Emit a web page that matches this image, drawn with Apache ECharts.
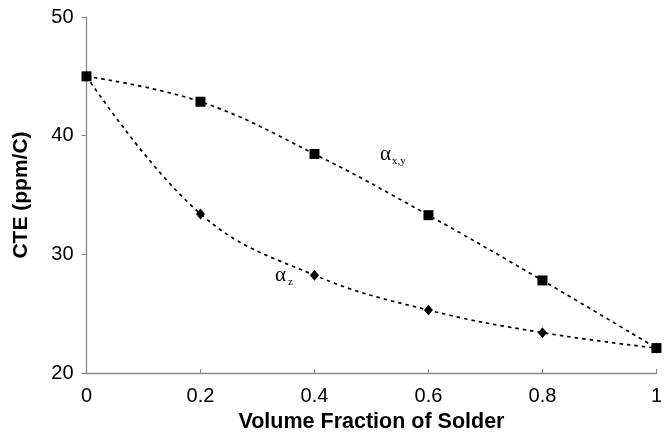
<!DOCTYPE html>
<html>
<head>
<meta charset="utf-8">
<script src="https://cdn.jsdelivr.net/npm/echarts@6/dist/echarts.min.js"></script>
<style>
html,body{margin:0;padding:0;background:#fff;}
#c{width:665px;height:438px;}
</style>
</head>
<body>
<div id="c"></div>
<script>
var xValues = [0, 0.2, 0.4, 0.6, 0.8, 1];
var alphaXY = [45.0, 42.86, 38.46, 33.3, 27.8, 22.1];
var alphaZ = [45.0, 33.4, 28.24, 25.3, 23.4, 22.1];
var xTicks = ['0', '0.2', '0.4', '0.6', '0.8', '1'];
var yTicks = ['20', '30', '40', '50'];

function pairs(xs, ys) { return xs.map(function (x, i) { return [x, ys[i]]; }); }

var chart = echarts.init(document.getElementById('c'), null, {renderer: 'canvas'});
var axisColor = '#868686';
var lineStyle = {color: '#000', width: 1.7, type: [3.5, 4]};
chart.setOption({
  animation: false,
  backgroundColor: '#fff',
  grid: {left: 86.5, right: 6, top: 17, bottom: 65, containLabel: false},
  xAxis: {
    type: 'value', min: 0, max: 1, interval: 0.2,
    name: 'Volume Fraction of Solder', nameLocation: 'middle', nameGap: 38,
    nameTextStyle: {fontFamily: 'Liberation Sans', fontWeight: 'bold', fontSize: 21.5, color: '#000'},
    axisLine: {show: true, lineStyle: {color: axisColor, width: 1.3}},
    axisTick: {show: true, inside: true, length: 4, lineStyle: {color: axisColor}},
    axisLabel: {margin: 13, fontFamily: 'Liberation Sans', fontSize: 20, color: '#000',
      formatter: function (v) { var i = Math.round(v / 0.2); return xTicks[i]; }},
    splitLine: {show: false}
  },
  yAxis: {
    type: 'value', min: 20, max: 50, interval: 10,
    name: 'CTE (ppm/C)', nameLocation: 'middle', nameGap: 55,
    nameTextStyle: {fontFamily: 'Liberation Sans', fontWeight: 'bold', fontSize: 21, color: '#000'},
    axisLine: {show: true, lineStyle: {color: axisColor, width: 1.3}},
    axisTick: {show: true, inside: false, length: 5, lineStyle: {color: axisColor}},
    axisLabel: {margin: 13, fontFamily: 'Liberation Sans', fontSize: 20, color: '#000',
      formatter: function (v) { return yTicks[Math.round((v - 20) / 10)]; }},
    splitLine: {show: false}
  },
  series: [
    {
      name: 'alpha_xy', type: 'line', smooth: 0.4,
      data: pairs(xValues, alphaXY),
      symbol: 'rect', symbolSize: 10,
      itemStyle: {color: '#000'},
      lineStyle: lineStyle, z: 3
    },
    {
      name: 'alpha_z', type: 'line', smooth: 0.4,
      data: pairs(xValues, alphaZ),
      symbol: 'diamond', symbolSize: [9, 11],
      itemStyle: {color: '#000'},
      lineStyle: lineStyle, z: 2
    }
  ],
  graphic: [
    {type: 'text', left: 380, top: 144, style: {text: 'α', font: '21px "Liberation Serif"', fill: '#000'}},
    {type: 'text', left: 392, top: 156, style: {text: 'x,y', font: '11px "Liberation Serif"', fill: '#000'}},
    {type: 'text', left: 275, top: 265, style: {text: 'α', font: '21px "Liberation Serif"', fill: '#000'}},
    {type: 'text', left: 288, top: 277, style: {text: 'z', font: '11px "Liberation Serif"', fill: '#000'}}
  ]
});
</script>
</body>
</html>
